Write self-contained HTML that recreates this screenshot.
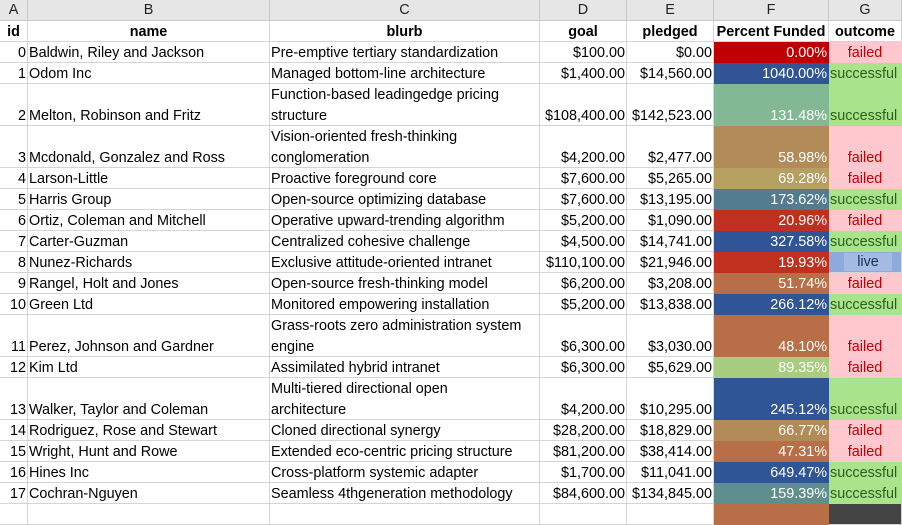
<!DOCTYPE html>
<html><head><meta charset="utf-8">
<style>
body{margin:0;width:902px;height:508px;overflow:hidden;background:#fff;font-family:"Liberation Sans",Arial,sans-serif;font-size:14.4px;color:#000}
#sheet{position:relative;width:902px;height:508px}
.c{position:absolute;box-sizing:border-box;border-right:1px solid #d4d4d4;border-bottom:1px solid #d4d4d4;white-space:nowrap;overflow:hidden;padding:0 1px;line-height:21px;display:flex;flex-direction:column;justify-content:flex-end}
.c>span,.c>div{position:relative;top:2px}
.h{background:#e6e6e6;border-color:#c8c8c8;text-align:center;justify-content:center;color:#222}
.b{font-weight:bold;text-align:center}
.r{text-align:right}
.ctr{text-align:center}
</style></head><body>
<div id="sheet"></div>
<script>
const cols=[0,28,270,540,627,714,829,902];
const letters=["A","B","C","D","E","F","G"];
const headers=["id","name","blurb","goal","pledged","Percent Funded","outcome"];
const names=["Baldwin, Riley and Jackson","Odom Inc","Melton, Robinson and Fritz","Mcdonald, Gonzalez and Ross","Larson-Little","Harris Group","Ortiz, Coleman and Mitchell","Carter-Guzman","Nunez-Richards","Rangel, Holt and Jones","Green Ltd","Perez, Johnson and Gardner","Kim Ltd","Walker, Taylor and Coleman","Rodriguez, Rose and Stewart","Wright, Hunt and Rowe","Hines Inc","Cochran-Nguyen"];
const blurbs=[["Pre-emptive tertiary standardization"],["Managed bottom-line architecture"],["Function-based leadingedge pricing","structure"],["Vision-oriented fresh-thinking","conglomeration"],["Proactive foreground core"],["Open-source optimizing database"],["Operative upward-trending algorithm"],["Centralized cohesive challenge"],["Exclusive attitude-oriented intranet"],["Open-source fresh-thinking model"],["Monitored empowering installation"],["Grass-roots zero administration system","engine"],["Assimilated hybrid intranet"],["Multi-tiered directional open","architecture"],["Cloned directional synergy"],["Extended eco-centric pricing structure"],["Cross-platform systemic adapter"],["Seamless 4thgeneration methodology"]];
const goals=["$100.00","$1,400.00","$108,400.00","$4,200.00","$7,600.00","$7,600.00","$5,200.00","$4,500.00","$110,100.00","$6,200.00","$5,200.00","$6,300.00","$6,300.00","$4,200.00","$28,200.00","$81,200.00","$1,700.00","$84,600.00"];
const pledged=["$0.00","$14,560.00","$142,523.00","$2,477.00","$5,265.00","$13,195.00","$1,090.00","$14,741.00","$21,946.00","$3,208.00","$13,838.00","$3,030.00","$5,629.00","$10,295.00","$18,829.00","$38,414.00","$11,041.00","$134,845.00"];
const pct=["0.00%","1040.00%","131.48%","58.98%","69.28%","173.62%","20.96%","327.58%","19.93%","51.74%","266.12%","48.10%","89.35%","245.12%","66.77%","47.31%","649.47%","159.39%"];
const pctColors=["#c00000","#305496","#82b894","#b38b58","#b5a062","#547c91","#c0301f","#2f5597","#c0301f","#b86f48","#2f5597","#b86f48","#a9cd80","#2f5597","#b38b58","#b86f48","#2f5597","#5e8f8d"];
const outcomes=["failed","successful","successful","failed","failed","successful","failed","successful","live","failed","successful","failed","failed","successful","failed","failed","successful","successful"];
const sheet=document.getElementById('sheet');
function cell(x0,x1,y0,y1,cls,html){
  const d=document.createElement('div');
  d.className='c '+cls;
  d.style.left=x0+'px';d.style.top=y0+'px';d.style.width=(x1-x0)+'px';d.style.height=(y1-y0)+'px';
  d.innerHTML=html;sheet.appendChild(d);return d;
}
for(let i=0;i<7;i++){
  const d=cell(cols[i],cols[i+1],0,21,'h',letters[i]);
  
  
}
for(let i=0;i<7;i++){
  const d=cell(cols[i],cols[i+1],21,42,'b','<span>'+headers[i]+'</span>');
  
  
}
let y=42;
for(let r=0;r<names.length;r++){
  const h=blurbs[r].length*21;
  const y1=y+h;
  const rows=[
    ['<span>'+r+'</span>','r'],['<span>'+names[r]+'</span>',''],[blurbs[r].map(t=>'<div>'+t+'</div>').join(''),''],
    ['<span>'+goals[r]+'</span>','r'],['<span>'+pledged[r]+'</span>','r'],['<span>'+pct[r]+'</span>','r'],['<span>'+outcomes[r]+'</span>','ctr']
  ];
  for(let i=0;i<7;i++){
    const d=cell(cols[i],cols[i+1],y,y1,rows[i][1],rows[i][0]);
    if(i===5){d.style.background=pctColors[r];d.style.color='#fff';d.style.borderColor=pctColors[r];}
    if(i===6){
      const o=outcomes[r];
      if(o==='failed'){d.style.background='#ffc7ce';d.style.color='#c00000';d.style.borderColor='#ffc7ce';}
      else if(o==='successful'){d.style.background='#a9e38b';d.style.color='#2e5e1e';d.style.borderColor='#a9e38b';d.style.textAlign='left';}
      else {d.style.background='#8eaadb';d.style.color='#1f2f4f';d.innerHTML='<div style="margin:0 8px 1px 14px;background:#a4bce4;line-height:18px;top:0">live</div>';}
    }
    
    
  }
  y=y1;
}
for(let i=0;i<7;i++){
  const d=cell(cols[i],cols[i+1],y,y+21,'','');
  if(i===5){d.style.background='#b86f48';d.style.borderColor='#b86f48';}
  if(i===6){d.style.background='#444';}
  
  
}
</script>
</body></html>
